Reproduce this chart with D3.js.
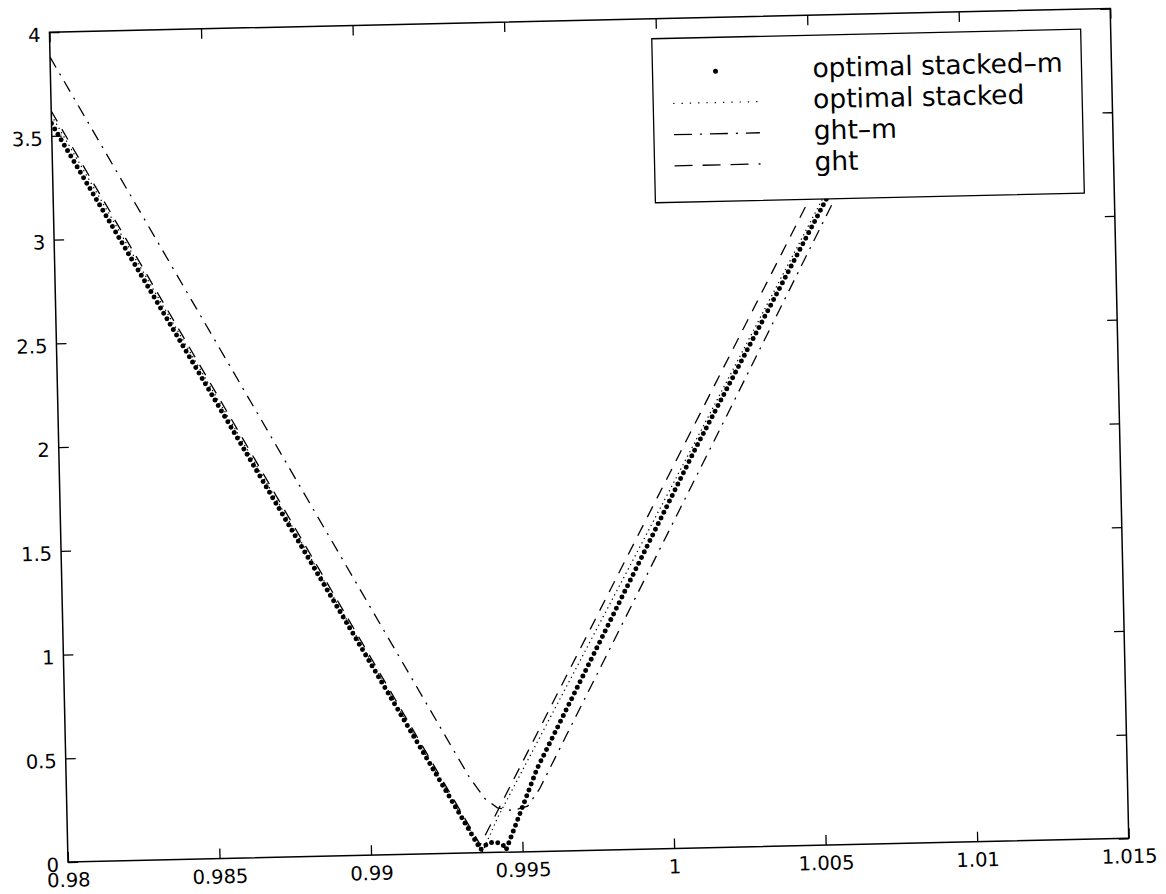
<!DOCTYPE html>
<html>
<head>
<meta charset="utf-8">
<script src="https://cdn.jsdelivr.net/npm/d3@7"></script>
<style>
  html, body { margin: 0; padding: 0; background: #fff; }
  svg { display: block; }
  text { font-family: "DejaVu Sans", sans-serif; fill: #000; }
</style>
</head>
<body>
<svg id="chart" width="1166" height="894"></svg>
<script>
// ---------- data ----------
const xTicks = [0.98, 0.985, 0.99, 0.995, 1, 1.005, 1.01, 1.015];
const xTickLabels = ["0.98", "0.985", "0.99", "0.995", "1", "1.005", "1.01", "1.015"];
const yTicks = [0, 0.5, 1, 1.5, 2, 2.5, 3, 3.5, 4];
const yTickLabels = ["0", "0.5", "1", "1.5", "2", "2.5", "3", "3.5", "4"];

const seriesNames = ["optimal stacked\u2013m", "optimal stacked", "ght\u2013m", "ght"];

// optimal stacked-m (large dot markers)
const stackedM_x = [0.98, 0.99362, 0.99372, 0.99388, 0.99406, 0.99424, 0.99440, 0.99446, 0.99554, 1.00098, 1.00545, 1.00697];
const stackedM_y = [3.56, 0.015, 0.030, 0.045, 0.050, 0.045, 0.030, 0.012, 0.40, 1.92, 3.10, 3.50];

// optimal stacked (dotted)
const stacked_x = [0.98, 0.99368, 0.99421, 1.00085, 1.00532, 1.00684];
const stacked_y = [3.60, 0.005, 0.17, 1.92, 3.10, 3.50];

// ght-m (dash-dot)
const ghtM_x = [0.98, 0.9933, 0.9938, 0.9942, 0.9947, 0.9952, 0.9956, 1.00203, 1.00717];
const ghtM_y = [3.88, 0.365, 0.26, 0.215, 0.20, 0.22, 0.30, 2.073, 3.50];

// ght (dashed)
const ght_x = [0.98, 0.99361, 1.00636];
const ght_y = [3.62, 0.038, 3.50];

// ---------- layout ----------
const plot = { left: 68, top: 32, width: 1061, height: 830 };
const tilt = -1.28; // the reference scan is slightly rotated

const svg = d3.select("#chart");
svg.append("rect").attr("width", 1166).attr("height", 894).attr("fill", "#fff");

const root = svg.append("g")
  .attr("transform", `rotate(${tilt},${plot.left},${plot.top + plot.height})`);

const x = d3.scaleLinear().domain([0.98, 1.015]).range([plot.left, plot.left + plot.width]);
const y = d3.scaleLinear().domain([0, 4]).range([plot.top + plot.height, plot.top]);

root.append("clipPath").attr("id", "clip")
  .append("rect")
  .attr("x", plot.left).attr("y", plot.top)
  .attr("width", plot.width).attr("height", plot.height);

const zip = (xs, ys) => xs.map((v, i) => [v, ys[i]]);
const line = d3.line().x(d => x(d[0])).y(d => y(d[1]));

const series = [
  { name: seriesNames[0], data: zip(stackedM_x, stackedM_y), width: 5, dash: "0 6.3", cap: "round" },
  { name: seriesNames[1], data: zip(stacked_x, stacked_y), width: 1.2, dash: "1.3 3.6", cap: "butt" },
  { name: seriesNames[2], data: zip(ghtM_x, ghtM_y), width: 1.3, dash: "12 7 2 7", cap: "butt" },
  { name: seriesNames[3], data: zip(ght_x, ght_y), width: 1.3, dash: "12 9", cap: "butt" }
];

const lines = root.append("g").attr("clip-path", "url(#clip)");
series.slice().reverse().forEach(s => {
  lines.append("path")
    .datum(s.data)
    .attr("d", line)
    .attr("fill", "none")
    .attr("stroke", "#000")
    .attr("stroke-width", s.width)
    .attr("stroke-dasharray", s.dash)
    .attr("stroke-linecap", s.cap);
});

// ---------- axes ----------
const fontSize = 19.5;
const axB = root.append("g")
  .attr("transform", `translate(0,${plot.top + plot.height})`)
  .call(d3.axisBottom(x).tickValues(xTicks).tickSizeInner(-10).tickSizeOuter(0).tickPadding(11)
    .tickFormat((d, i) => xTickLabels[i]));
const axL = root.append("g")
  .attr("transform", `translate(${plot.left},0)`)
  .call(d3.axisLeft(y).tickValues(yTicks).tickSizeInner(-10).tickSizeOuter(0).tickPadding(9)
    .tickFormat((d, i) => yTickLabels[i]));
const axT = root.append("g")
  .attr("transform", `translate(0,${plot.top})`)
  .call(d3.axisTop(x).tickValues(xTicks).tickSizeInner(-10).tickSizeOuter(0).tickFormat(""));
const axR = root.append("g")
  .attr("transform", `translate(${plot.left + plot.width},0)`)
  .call(d3.axisRight(y).tickValues(yTicks).tickSizeInner(-10).tickSizeOuter(0).tickFormat(""));

[axB, axL, axT, axR].forEach(a => {
  a.select(".domain").remove();
  a.selectAll("line").attr("stroke", "#000").attr("stroke-width", 1.3);
  a.selectAll("text")
    .attr("font-family", "DejaVu Sans, sans-serif")
    .attr("font-size", fontSize)
    .attr("fill", "#000");
});
axL.selectAll("text").attr("dy", "0.46em");

root.append("rect")
  .attr("x", plot.left).attr("y", plot.top)
  .attr("width", plot.width).attr("height", plot.height)
  .attr("fill", "none").attr("stroke", "#000").attr("stroke-width", 1.5);

// ---------- legend ----------
const leg = { x: 670, y: 52, w: 429, h: 164 };
const lg = root.append("g");
lg.append("rect")
  .attr("x", leg.x).attr("y", leg.y).attr("width", leg.w).attr("height", leg.h)
  .attr("fill", "#fff").attr("stroke", "#000").attr("stroke-width", 1.3);

const sampleX0 = 690, sampleX1 = 776, textX = 830, baseY0 = 94, rowGap = 31.2;
series.forEach((s, i) => {
  const by = baseY0 + i * rowGap;
  const sy = by - 8;
  if (i === 0) {
    lg.append("circle").attr("cx", (sampleX0 + sampleX1) / 2).attr("cy", sy)
      .attr("r", 2.5).attr("fill", "#000");
  } else {
    lg.append("line")
      .attr("x1", sampleX0).attr("x2", sampleX1).attr("y1", sy).attr("y2", sy)
      .attr("stroke", "#000").attr("stroke-width", s.width)
      .attr("stroke-dasharray", i === 1 ? "1.3 7" : (i === 2 ? "18 8 2 8" : "18 10"));
  }
  lg.append("text")
    .attr("x", textX).attr("y", by)
    .attr("font-size", 26.5)
    .text(s.name);
});
</script>
</body>
</html>
